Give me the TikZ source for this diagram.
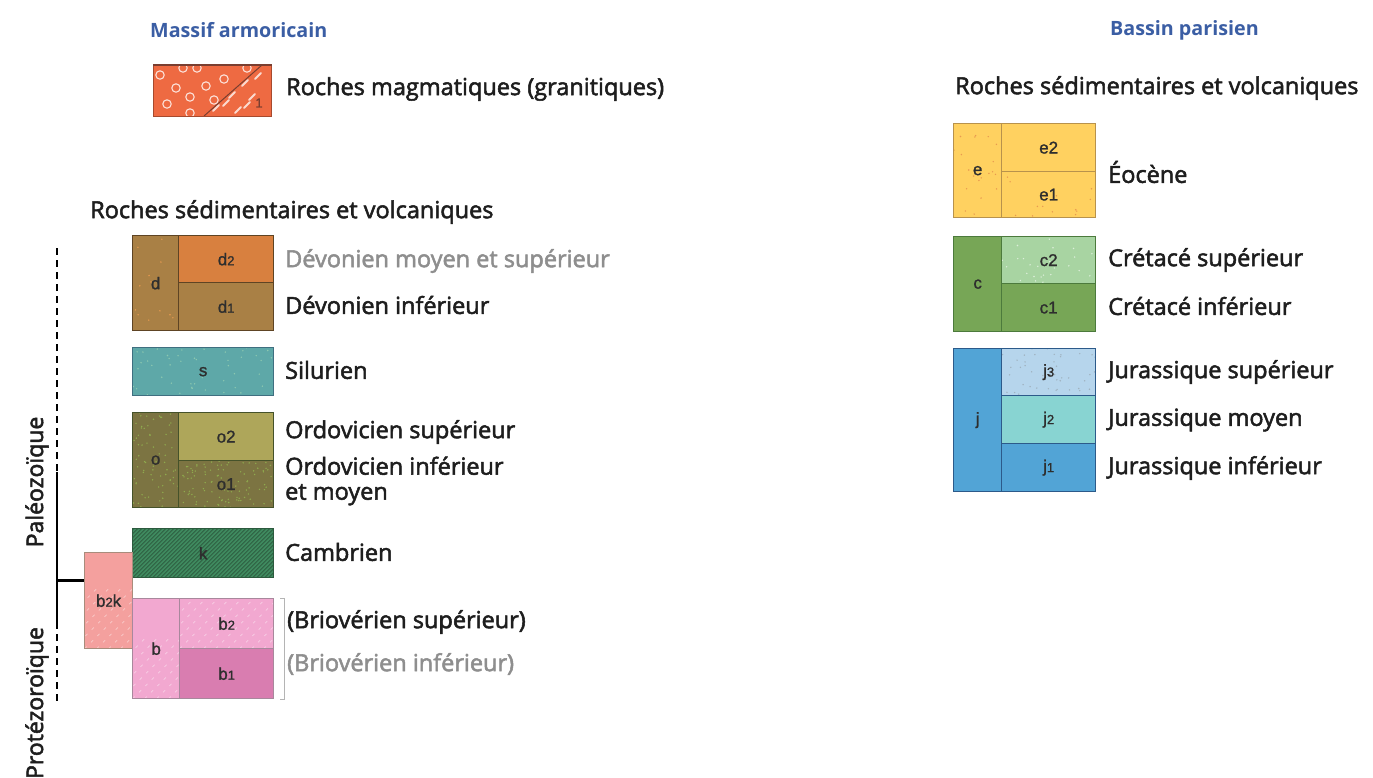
\documentclass[tikz,border=0pt]{standalone}
\usepackage{fontspec}
\usetikzlibrary{calc}
\setmainfont{Open Sans}
\newfontfamily\labfont[FakeBold=2.2]{Open Sans}
\newfontfamily\ttlfont{Open Sans}
\newfontfamily\boxfont[FakeBold=1.2]{Liberation Sans}

% colours
\definecolor{labtxt}{HTML}{1E1E1E}
\definecolor{labgray}{HTML}{8E8E8E}
\definecolor{ttlblue}{HTML}{3B5EA4}
\definecolor{celltxt}{HTML}{2E2E2E}
\definecolor{magma}{HTML}{EE6A42}
\definecolor{magmaline}{HTML}{7A3E30}
\definecolor{dbrown}{HTML}{A98045}
\definecolor{dorange}{HTML}{D8803F}
\definecolor{dline}{HTML}{5E4424}
\definecolor{steal}{HTML}{5EA8A8}
\definecolor{sline}{HTML}{3F6F80}
\definecolor{oolive}{HTML}{7C7442}
\definecolor{olight}{HTML}{AEA65A}
\definecolor{oline}{HTML}{45522A}
\definecolor{kgreen}{HTML}{3F8A5F}
\definecolor{kline}{HTML}{2C5A3E}
\definecolor{salmon}{HTML}{F4A09E}
\definecolor{salmonline}{HTML}{A88C7C}
\definecolor{bpink}{HTML}{F2A8D0}
\definecolor{bdark}{HTML}{D97DB0}
\definecolor{bline}{HTML}{A8889C}
\definecolor{eyellow}{HTML}{FFD160}
\definecolor{eline}{HTML}{B8924C}
\definecolor{cgreen}{HTML}{77A656}
\definecolor{clight}{HTML}{A8D4A2}
\definecolor{cline}{HTML}{4C7A3C}
\definecolor{jblue}{HTML}{52A4D6}
\definecolor{jlight}{HTML}{B6D5EC}
\definecolor{jcyan}{HTML}{88D4D2}
\definecolor{jline}{HTML}{2C5A8A}
\definecolor{bracketgray}{HTML}{B4B4B4}
\definecolor{odot}{HTML}{8FAA4E}
\definecolor{sdot}{HTML}{8CC8B0}
\definecolor{edot}{HTML}{E89A50}

% small digits inside the legend cells
\newcommand\smdig[1]{{\fontsize{13}{15}\selectfont #1}}

% random speckle inside a node (used from a path picture)
\newcommand\speckle[2]{%
  \foreach \k in {1,...,#2}{%
    \pgfmathsetmacro\ra{rnd}\pgfmathsetmacro\rb{rnd}%
    \path ($(path picture bounding box.south west)!\ra!(path picture bounding box.south east)$) coordinate (spx)
          ($(path picture bounding box.south west)!\rb!(path picture bounding box.north west)$) coordinate (spy);
    \fill[#1] (spx |- spy) circle (0.8);
  }}

% diagonal hatching inside a node (used from a path picture)
\newcommand\hatch[3]{%
  \foreach \i in {0,...,70}{%
    \pgfmathsetmacro\hs{-120+\i*#3}%
    \draw[#1,line width=#2] ([xshift=\hs pt]path picture bounding box.south west) -- ++(60,-60);
  }}

\tikzset{
  lab/.style={anchor=west, font=\labfont\fontsize{23.5}{25}\selectfont, text=labtxt, inner sep=0pt, align=left},
  labgr/.style={lab, text=labgray},
  ttl/.style={anchor=west, font=\ttlfont\bfseries\fontsize{19.7}{22}\selectfont, text=ttlblue, inner sep=0pt},
  cell/.style={draw=#1, line width=1.3pt, anchor=north west, inner sep=0pt,
               font=\boxfont\fontsize{17}{19}\selectfont, text=celltxt},
  era/.style={font=\labfont\fontsize{23}{25}\selectfont, text=labtxt, rotate=90, inner sep=0pt},
  dashline/.style={line width=1.7pt, dash pattern=on 7pt off 5pt},
  solidline/.style={line width=2pt},
}

\begin{document}
\begin{tikzpicture}[x=1pt,y=-1pt]
\useasboundingbox[fill=white] (0,0) rectangle (1373,777);
\pgfmathsetseed{7}

% ---------- headers ----------
\node[ttl] (hma) at (150,30) {Massif armoricain};
\node[ttl] (hbp) at (1110,30) {Bassin parisien};

% ---------- magmatic rocks ----------
\fill[magma] (153,65) rectangle (271,116);
\begin{scope}
  \clip (153,65) rectangle (271,116);
  \foreach \cx/\cy in {183/68,197/68,224/79,176/88,206/86,190/97,167/104,190/113,247/68,214/100,160/75}
    \draw[white!80!magma, line width=1.1pt] (\cx,\cy) circle (4.2);
  \foreach \cx/\cy in {245/83,232/95,252/97,216/108,238/110,226/103,258/76,247/105}
    \draw[white!75!magma, line width=2pt, line cap=round] (\cx-3,\cy+3) -- (\cx+3,\cy-3);
  \draw[magmaline, line width=1pt] (204,116) -- (262,65);
\end{scope}
\node[draw=magma!70!black, line width=0.8pt, anchor=north west, minimum width=118pt, minimum height=51pt, inner sep=0pt] (mag) at (153,65) {};
\draw[magmaline, line width=1.6pt] (mag.north west) -- (mag.north east);
\node[font=\boxfont\fontsize{13}{14}\selectfont, text=magmaline, inner sep=0pt] (magone) at (259,103) {1};
\node[lab] (lmag) at (286,89) {Roches magmatiques (granitiques)};

% ---------- sedimentary, Armorican massif ----------
\node[lab] (hsed) at (90,212) {Roches sédimentaires et volcaniques};

\node[cell=dline, fill=dbrown, minimum width=46pt, minimum height=95pt, path picture={\speckle{edot}{12}}] (dcol) at (132,235) {d};
\node[cell=dline, fill=dorange, minimum width=95pt, minimum height=47pt] (d2) at (178,235) {d\smdig{2}};
\node[cell=dline, fill=dbrown, minimum width=95pt, minimum height=48pt] (d1) at (178,282) {d\smdig{1}};
\node[labgr] (ld2) at (285,261) {Dévonien moyen et supérieur};
\node[lab] (ld1) at (285,305) {Dévonien inférieur};

\node[cell=sline, fill=steal, minimum width=141pt, minimum height=48pt, path picture={\speckle{sdot}{45}}] (s) at (132,347) {s};
\node[lab] (ls) at (285,370) {Silurien};

\node[cell=oline, fill=oolive, minimum width=46pt, minimum height=95pt, path picture={\speckle{odot}{70}}] (ocol) at (132,412) {o};
\node[cell=oline, fill=olight, minimum width=95pt, minimum height=48pt] (o2) at (178,412) {o2};
\node[cell=oline, fill=oolive, minimum width=95pt, minimum height=47pt, path picture={\speckle{odot}{100}}] (o1) at (178,460) {o1};
\node[lab] (lo2) at (285,432) {Ordovicien supérieur};
\node[lab] (lo1) at (285,481) {Ordovicien inférieur\\et moyen};

\node[cell=kline, fill=kgreen, minimum width=141pt, minimum height=49pt, path picture={\hatch{kline}{0.7pt}{4}}] (k) at (132,528) {k};
\node[lab] (lk) at (285,552) {Cambrien};

\node[cell=salmonline, fill=salmon, minimum width=48pt, minimum height=96pt, path picture={\hatch{white!45!salmon, dash pattern=on 3pt off 6pt}{0.7pt}{12}}] (b2k) at (84,552) {b\smdig{2}k};
\node[cell=bline, fill=bpink, minimum width=47pt, minimum height=100pt, path picture={\hatch{white!45!bpink, dash pattern=on 3pt off 6pt}{0.7pt}{12}}] (bcol) at (132,598) {b};
\node[cell=bline, fill=bpink, minimum width=94pt, minimum height=50pt, path picture={\hatch{white!45!bpink, dash pattern=on 3pt off 6pt}{0.7pt}{12}}] (b2) at (179,598) {b\smdig{2}};
\node[cell=bline, fill=bdark, minimum width=94pt, minimum height=50pt] (b1) at (179,648) {b\smdig{1}};
\draw[bracketgray, line width=1pt] ([xshift=6pt]b2.north east) -- ++(4,0) coordinate (brt) -- ([xshift=10pt]b1.south east) coordinate (brb) -- ++(-4,0);
\node[lab] (lb2) at (287,622) {(Briovérien supérieur)};
\node[labgr] (lb1) at (287,664) {(Briovérien inférieur)};

% ---------- time scale ----------
\coordinate (t0) at (57,248);
\coordinate (t1) at (57,472);
\coordinate (t2) at (57,622);
\coordinate (t3) at (57,703);
\coordinate (tm) at (57,580);
\draw[dashline] (t0) -- (t1);
\draw[solidline] (t1) -- (t2);
\draw[dashline] (t2) -- (t3);
\draw[line width=3pt] (tm) -- (b2k.west |- tm);
\node[era] (pal) at (37,482) {Paléozoïque};
\node[era] (pro) at (37,703) {Protézoroïque};

% ---------- sedimentary, Paris basin ----------
\node[lab] (hsedr) at (955,88) {Roches sédimentaires et volcaniques};

\node[cell=eline, fill=eyellow, minimum width=48pt, minimum height=94pt, path picture={\speckle{edot}{20}}] (ecol) at (953,123) {e};
\node[cell=eline, fill=eyellow, minimum width=94pt, minimum height=48pt] (e2) at (1001,123) {e2};
\node[cell=eline, fill=eyellow, minimum width=94pt, minimum height=46pt, path picture={\speckle{edot}{14}}] (e1) at (1001,171) {e1};
\node[lab] (le) at (1108,172) {Éocène};

\node[cell=cline, fill=cgreen, minimum width=48pt, minimum height=95pt] (ccol) at (953,236) {c};
\node[cell=cline, fill=clight, minimum width=94pt, minimum height=47pt, path picture={\speckle{white!60!clight}{25}}] (c2) at (1001,236) {c2};
\node[cell=cline, fill=cgreen, minimum width=94pt, minimum height=48pt] (c1) at (1001,283) {c1};
\node[lab] (lc2) at (1108,260) {Crétacé supérieur};
\node[lab] (lc1) at (1108,306) {Crétacé inférieur};

\node[cell=jline, fill=jblue, minimum width=48pt, minimum height=143pt] (jcol) at (953,348) {j};
\node[cell=jline, fill=jlight, minimum width=94pt, minimum height=47pt, path picture={\speckle{gray!40!jlight}{45}}] (j3) at (1001,348) {j\smdig{3}};
\node[cell=jline, fill=jcyan, minimum width=94pt, minimum height=48pt] (j2) at (1001,395) {j\smdig{2}};
\node[cell=jline, fill=jblue, minimum width=94pt, minimum height=48pt] (j1) at (1001,443) {j\smdig{1}};
\node[lab] (lj3) at (1108,372) {Jurassique supérieur};
\node[lab] (lj2) at (1108,420) {Jurassique moyen};
\node[lab] (lj1) at (1108,468) {Jurassique inférieur};
\end{tikzpicture}
\end{document}
